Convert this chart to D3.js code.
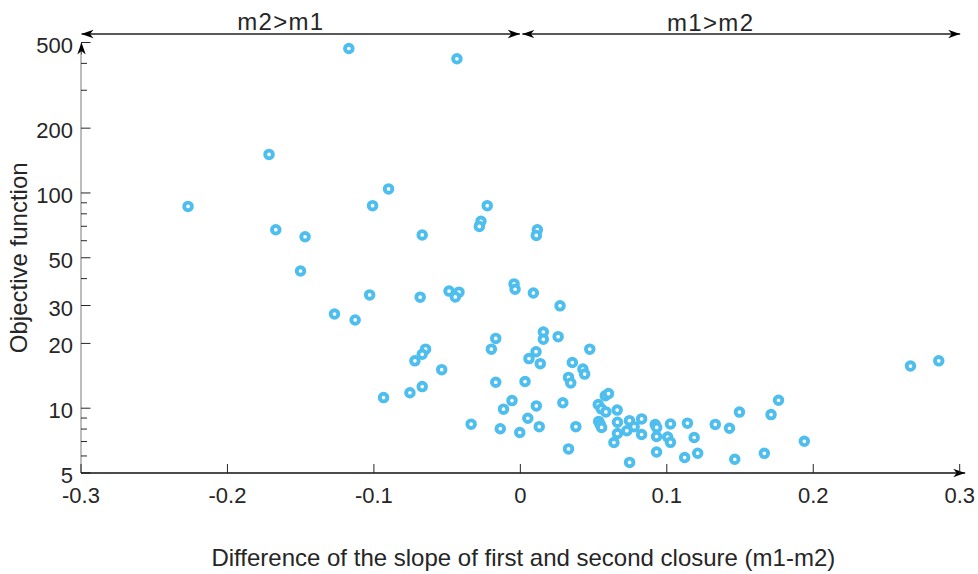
<!DOCTYPE html>
<html>
<head>
<meta charset="utf-8">
<script src="https://cdn.jsdelivr.net/npm/d3@7"></script>
<style>
  body { margin: 0; background: #fff; }
  svg text { font-family: "Liberation Sans", Arial, Helvetica, sans-serif; fill: #262626; }
</style>
</head>
<body>
<div id="chart"></div>
<script>
// slope difference (m1-m2) for each closure pair
const slopeDiff = [
  -0.1171, -0.0433, -0.0900, -0.1716, -0.2269, -0.1670, -0.1470, -0.1501, -0.1009, -0.0226,
  -0.0269, -0.0280, 0.0116, 0.0109, -0.0670, -0.0043, -0.0036, -0.1029, -0.0684, -0.0487,
  -0.0419, -0.0444, 0.0089, -0.1269, -0.1128, 0.0271, 0.0157, 0.0157, 0.0258, -0.0168,
  -0.0198, 0.0474, -0.0647, -0.0670, -0.0720, 0.0107, 0.0059, 0.0136, 0.0355, -0.0537,
  0.0427, 0.0439, 0.0329, 0.0344, -0.0168, 0.0032, -0.0934, -0.0754, -0.0670, -0.0057,
  -0.0115, 0.0109, 0.0290, 0.0051, -0.0336, -0.0137, -0.0004, 0.0129, 0.0379, 0.0329,
  0.0532, 0.0553, 0.0584, 0.0580, 0.0602, 0.0535, 0.0545, 0.0555, 0.0661, 0.0663,
  0.0663, 0.0639, 0.0746, 0.0745, 0.0777, 0.0727, 0.0828, 0.0828, 0.0921, 0.0931,
  0.0930, 0.0930, 0.1025, 0.1006, 0.1025, 0.1141, 0.1187, 0.1122, 0.1211, 0.1331,
  0.1428, 0.1496, 0.1464, 0.1712, 0.1763, 0.1666, 0.1939, 0.2664, 0.2857
];
// objective function value for the same pairs
const objective = [
  469, 420, 104.4, 151, 86.6, 67.5, 62.6, 43.4, 87.3, 87.3,
  73.8, 69.9, 67.5, 63.5, 63.8, 37.8, 35.7, 33.6, 32.8, 35.0,
  34.6, 32.9, 34.3, 27.4, 25.7, 29.9, 22.6, 20.9, 21.5, 21.1,
  18.8, 18.8, 18.8, 17.8, 16.6, 18.3, 17.0, 16.1, 16.3, 15.1,
  15.2, 14.4, 13.9, 13.1, 13.2, 13.3, 11.2, 11.8, 12.6, 10.85,
  9.90, 10.25, 10.6, 8.98, 8.43, 8.03, 7.71, 8.21, 8.21, 6.47,
  10.40, 9.93, 9.61, 11.43, 11.69, 8.68, 8.41, 8.14, 9.80, 8.61,
  7.63, 6.93, 5.60, 8.75, 8.21, 7.86, 8.92, 7.55, 8.39, 8.14,
  7.39, 6.26, 8.45, 7.35, 6.94, 8.52, 7.31, 5.90, 6.18, 8.41,
  8.07, 9.59, 5.79, 9.34, 10.89, 6.17, 7.02, 15.7, 16.6
];

const xTicks = [-0.3, -0.2, -0.1, 0, 0.1, 0.2, 0.3];
const xTickLabels = ["-0.3", "-0.2", "-0.1", "0", "0.1", "0.2", "0.3"];
const yTicks = [5, 10, 20, 30, 50, 100, 200, 500];
const yMinorTicks = [6, 7, 8, 9, 40, 60, 70, 80, 90, 300, 400];
const regionLabels = ["m2>m1", "m1>m2"];

const width = 978, height = 574;
const plotLeft = 81, plotRight = 959.7, plotTop = 42.5, plotBottom = 473;
const markerColor = "#4DBEEE";

const svg = d3.select("#chart")
    .append("svg")
    .attr("width", width)
    .attr("height", height);

const x = d3.scaleLinear().domain([-0.3, 0.3]).range([plotLeft, plotRight]);
const y = d3.scaleLog().domain([5, 500]).range([plotBottom, plotTop]);

// arrowheads (swept back, like matlab annotation arrows)
const defs = svg.append("defs");
function add_marker(id, color) {
    defs.append("marker")
        .attr("id", id)
        .attr("viewBox", "0 0 12 10")
        .attr("refX", 12)
        .attr("refY", 5)
        .attr("markerWidth", 12)
        .attr("markerHeight", 10)
        .attr("markerUnits", "userSpaceOnUse")
        .attr("orient", "auto-start-reverse")
        .append("path")
        .attr("d", "M0,0.8 L12,5 L0,9.2 L3.5,5 Z")
        .attr("fill", color);
}
add_marker("arrow", "#000");

// y axis (gray line, inner ticks)
const yAxis = svg.append("g").attr("class", "y-axis");
yAxis.append("line")
    .attr("x1", plotLeft).attr("x2", plotLeft)
    .attr("y1", plotBottom).attr("y2", plotTop + 1)
    .attr("stroke", "#7a7a7a")
    .attr("stroke-width", 1);
// little arrow on top of y axis
yAxis.append("line")
    .attr("x1", plotLeft + 0.5).attr("x2", plotLeft + 0.5)
    .attr("y1", plotTop + 12).attr("y2", plotTop)
    .attr("stroke", "#000")
    .attr("stroke-width", 0.5)
    .attr("marker-end", "url(#arrow)");
yAxis.selectAll(".major")
    .data(yTicks)
    .enter()
    .append("line")
    .attr("x1", plotLeft).attr("x2", plotLeft + 9.5)
    .attr("y1", d => y(d)).attr("y2", d => y(d))
    .attr("stroke", "#262626");
yAxis.selectAll(".minor")
    .data(yMinorTicks)
    .enter()
    .append("line")
    .attr("x1", plotLeft).attr("x2", plotLeft + 6)
    .attr("y1", d => y(d)).attr("y2", d => y(d))
    .attr("stroke", "#262626");
yAxis.selectAll("text")
    .data(yTicks)
    .enter()
    .append("text")
    .attr("x", plotLeft - 8)
    .attr("y", d => y(d) + 10)
    .attr("text-anchor", "end")
    .style("font-size", "22px")
    .text(d => d);

// x axis (black line with arrow, ticks pointing up)
const xAxis = svg.append("g").attr("class", "x-axis");
xAxis.append("line")
    .attr("x1", plotLeft).attr("x2", plotRight + 5.5)
    .attr("y1", plotBottom).attr("y2", plotBottom)
    .attr("stroke", "#111")
    .attr("stroke-width", 1.3)
    .attr("marker-end", "url(#arrow)");
xAxis.selectAll(".tick")
    .data(xTicks)
    .enter()
    .append("line")
    .attr("x1", d => x(d)).attr("x2", d => x(d))
    .attr("y1", plotBottom).attr("y2", plotBottom - 9)
    .attr("stroke", "#262626");
xAxis.selectAll("text")
    .data(xTicks)
    .enter()
    .append("text")
    .attr("x", d => x(d))
    .attr("y", plotBottom + 30)
    .attr("text-anchor", "middle")
    .style("font-size", "22px")
    .text((d, i) => xTickLabels[i]);

// axis titles
svg.append("text")
    .attr("x", (plotLeft + plotRight) / 2 + 3)
    .attr("y", 566)
    .attr("text-anchor", "middle")
    .style("font-size", "24px")
    .text("Difference of the slope of first and second closure (m1-m2)");
svg.append("text")
    .attr("transform", `translate(27, ${(plotTop + plotBottom) / 2}) rotate(-90)`)
    .attr("text-anchor", "middle")
    .style("font-size", "24px")
    .text("Objective function");

// region arrows on top
const arrowY = 34;
const regions = [[-0.3, 0], [0, 0.3]];
svg.append("g")
    .selectAll("line")
    .data(regions)
    .enter()
    .append("line")
    .attr("x1", d => x(d[0]) + (d[0] === 0 ? 2 : 0.5))
    .attr("x2", d => x(d[1]) - (d[1] === 0 ? 0.5 : -0.5))
    .attr("y1", arrowY).attr("y2", arrowY)
    .attr("stroke", "#222")
    .attr("stroke-width", 1.3)
    .attr("marker-start", "url(#arrow)")
    .attr("marker-end", "url(#arrow)");
svg.append("g")
    .selectAll("text")
    .data(regionLabels)
    .enter()
    .append("text")
    .attr("x", (d, i) => x([-0.164, 0.1295][i]))
    .attr("y", (d, i) => arrowY - 4 + i)
    .attr("text-anchor", "middle")
    .style("font-size", "24px")
    .attr("textLength", 86)
    .text(d => d);

// scatter markers
svg.append("g")
    .selectAll("circle")
    .data(d3.range(slopeDiff.length))
    .enter()
    .append("circle")
    .attr("cx", i => x(slopeDiff[i]))
    .attr("cy", i => y(objective[i]))
    .attr("r", 3.8)
    .attr("fill", "#fff")
    .attr("stroke", markerColor)
    .attr("stroke-width", 3.9);
</script>
</body>
</html>
